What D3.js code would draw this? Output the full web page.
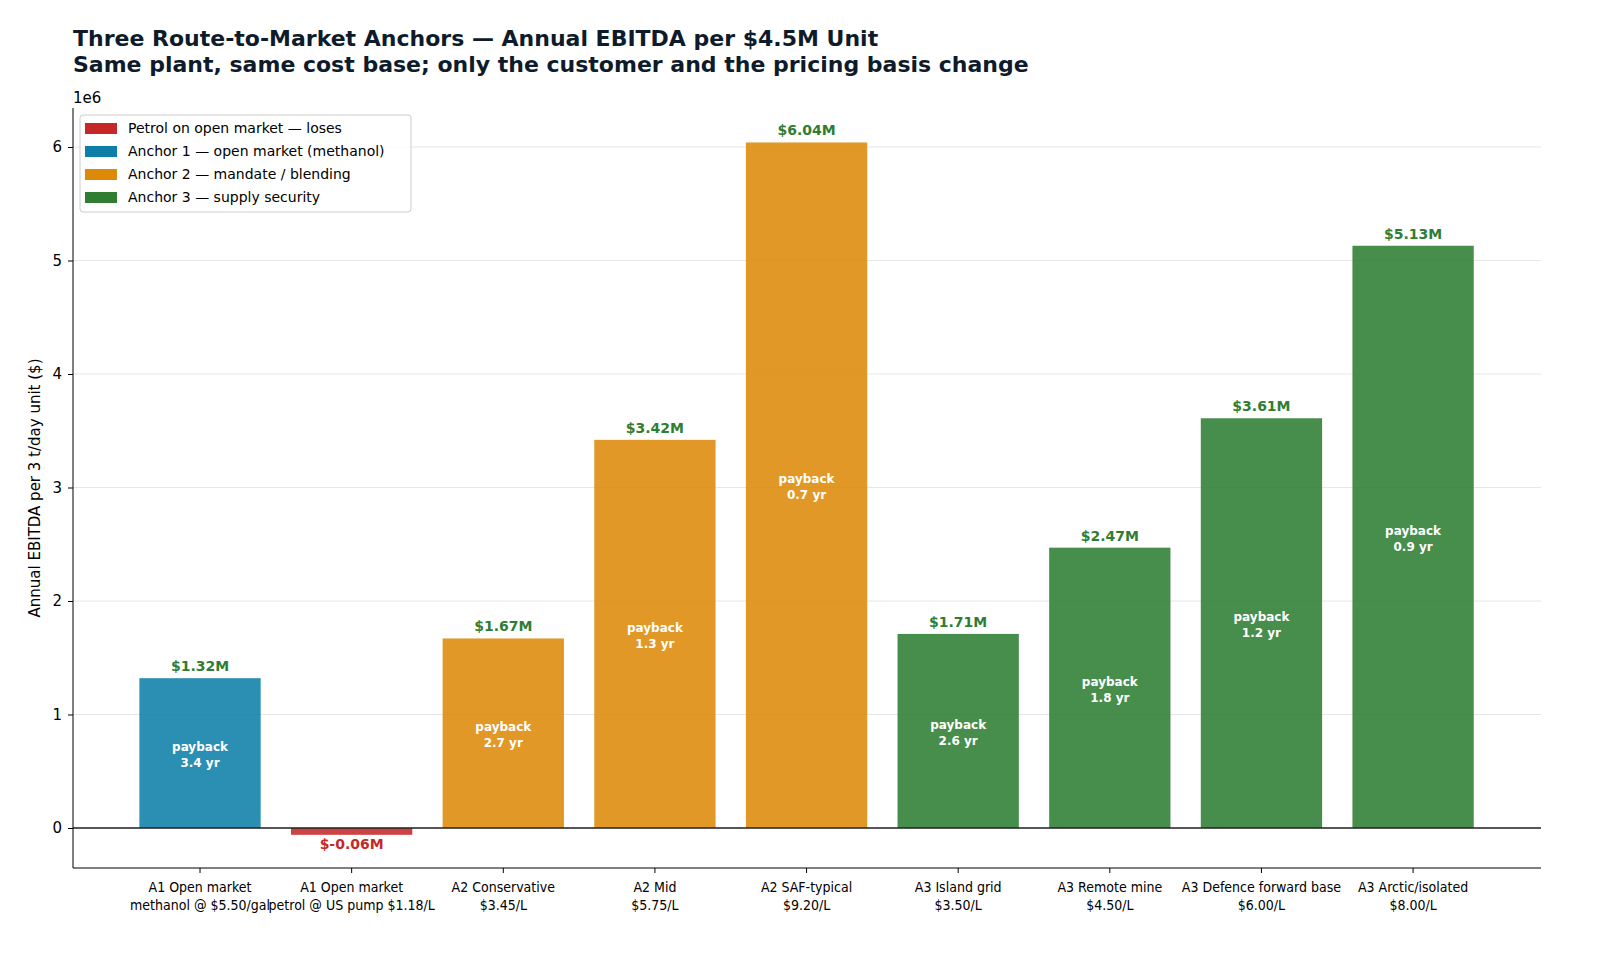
<!DOCTYPE html><html><head><meta charset="utf-8">
<script src="https://cdn.jsdelivr.net/npm/d3@7"></script>
<style>html,body{margin:0;background:#fff;font-family:"DejaVu Sans",sans-serif;overflow:hidden}svg{display:block}</style></head><body>
<svg id="c" width="1600" height="960"></svg>
<script>
const categories=["A1 Open market\nmethanol @ $5.50/gal","A1 Open market\npetrol @ US pump $1.18/L","A2 Conservative\n$3.45/L","A2 Mid\n$5.75/L","A2 SAF-typical\n$9.20/L","A3 Island grid\n$3.50/L","A3 Remote mine\n$4.50/L","A3 Defence forward base\n$6.00/L","A3 Arctic/isolated\n$8.00/L"];
const values=[1.32e6,-0.06e6,1.67e6,3.42e6,6.04e6,1.71e6,2.47e6,3.61e6,5.13e6];
const groups=["A1","P","A2","A2","A2","A3","A3","A3","A3"];
const payback=["3.4","","2.7","1.3","0.7","2.6","1.8","1.2","0.9"];
const yTicks=[0,1e6,2e6,3e6,4e6,5e6,6e6];
const legendItems=[["P","Petrol on open market — loses"],["A1","Anchor 1 — open market (methanol)"],["A2","Anchor 2 — mandate / blending"],["A3","Anchor 3 — supply security"]];
const colors={P:"#c62828",A1:"#0e7ea8",A2:"#dd8a08",A3:"#2e7d32"};
const svg=d3.select("#c");
const L=73,R=1541,T=108,B=868;
const y=d3.scaleLinear().domain([-0.3524e6,6.3436e6]).range([B,T]);
const x=d3.scaleBand().domain(categories).range([124.2,1488.9]).paddingInner(0.2).paddingOuter(0.1);
svg.append("text").attr("x",73).attr("y",46).attr("font-size",22).attr("font-weight","bold").attr("fill","#0d1b2a").text("Three Route-to-Market Anchors — Annual EBITDA per $4.5M Unit");
svg.append("text").attr("x",73).attr("y",72).attr("font-size",22).attr("font-weight","bold").attr("fill","#0d1b2a").text("Same plant, same cost base; only the customer and the pricing basis change");
svg.append("g").selectAll("line").data(yTicks).join("line").attr("x1",L).attr("x2",R).attr("y1",d=>y(d)).attr("y2",d=>y(d)).attr("stroke","#e6e6e6");
svg.append("g").selectAll("rect").data(values).join("rect").attr("x",(d,i)=>x(categories[i])).attr("width",x.bandwidth())
 .attr("y",d=>y(Math.max(0,d))).attr("height",d=>Math.abs(y(d)-y(0))).attr("fill",(d,i)=>colors[groups[i]]).attr("fill-opacity",0.88);
svg.append("line").attr("x1",L).attr("x2",R).attr("y1",y(0)).attr("y2",y(0)).attr("stroke","#222").attr("stroke-width",1.3);
const cx=i=>x(categories[i])+x.bandwidth()/2;
values.forEach((v,i)=>{
 const pos=v>=0;
 svg.append("text").attr("x",cx(i)).attr("y",pos?y(v)-7:y(v)+14).attr("text-anchor","middle").attr("font-size",14).attr("font-weight","bold")
  .attr("fill",pos?"#2e7d32":"#c62828").text("$"+(v/1e6).toFixed(2)+"M");
 if(payback[i]){const my=y(v/2);
  svg.append("text").attr("x",cx(i)).attr("y",my-2).attr("text-anchor","middle").attr("font-size",12).attr("font-weight","bold").attr("fill","#fff").text("payback");
  svg.append("text").attr("x",cx(i)).attr("y",my+14).attr("text-anchor","middle").attr("font-size",12).attr("font-weight","bold").attr("fill","#fff").text(payback[i]+" yr");}
});
const ya=svg.append("g").attr("transform",`translate(${L},0)`).call(d3.axisLeft(y).tickValues(yTicks).tickFormat(d=>d/1e6).tickSize(5).tickPadding(6));
ya.select(".domain").remove();ya.selectAll("text").attr("font-size",15).attr("font-family","DejaVu Sans").attr("fill","#000");
svg.append("line").attr("x1",L).attr("x2",L).attr("y1",T).attr("y2",B).attr("stroke","#000");
svg.append("line").attr("x1",L).attr("x2",R).attr("y1",B).attr("y2",B).attr("stroke","#000");
svg.append("text").attr("x",73).attr("y",103).attr("font-size",15).text("1e6");
const xa=svg.append("g").attr("transform",`translate(0,${B})`).call(d3.axisBottom(x).tickSize(5).tickFormat(""));
xa.select(".domain").remove();
categories.forEach((c,i)=>{const t=svg.append("text").attr("x",cx(i)).attr("y",B+24).attr("text-anchor","middle").attr("font-size",14).attr("font-family","DejaVu Sans Condensed, DejaVu Sans");
 c.split("\n").forEach((s,k)=>t.append("tspan").attr("x",cx(i)).attr("dy",k?18:0).text(s));});
svg.append("text").attr("transform",`translate(40,${(T+B)/2}) rotate(-90)`).attr("text-anchor","middle").attr("font-size",15).text("Annual EBITDA per 3 t/day unit ($)");
const lg=svg.append("g").attr("transform","translate(80,115)");
lg.append("rect").attr("width",331).attr("height",97).attr("rx",3).attr("fill","#fff").attr("fill-opacity",0.8).attr("stroke","#ccc");
legendItems.forEach(([k,t],i)=>{lg.append("rect").attr("x",5).attr("y",8+i*23).attr("width",32).attr("height",11).attr("fill",colors[k]);
 lg.append("text").attr("x",48).attr("y",18+i*23).attr("font-size",14).text(t);});
</script></body></html>
